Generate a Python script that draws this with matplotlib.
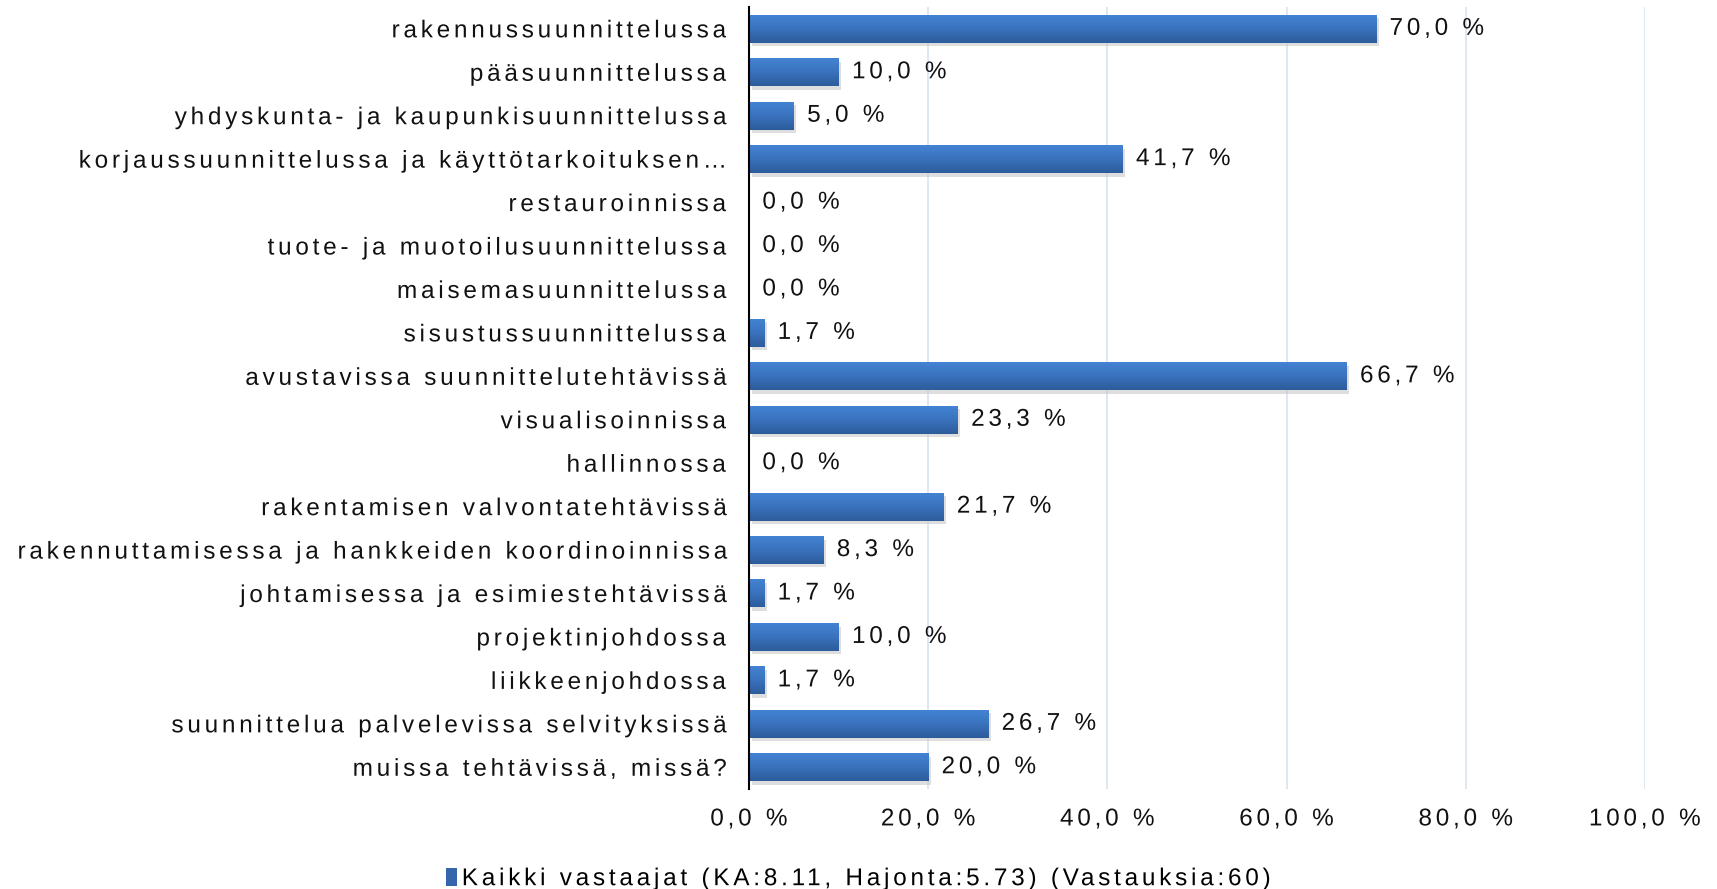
import numpy as np
import matplotlib.pyplot as plt
from matplotlib.colors import LinearSegmentedColormap
from matplotlib.patches import Patch
from matplotlib.patheffects import AbstractPathEffect
from matplotlib.path import Path
from matplotlib.textpath import text_to_path

plt.rcParams['font.family'] = ['Liberation Sans', 'DejaVu Sans']

categories = ['rakennussuunnittelussa', 'pääsuunnittelussa',
              'yhdyskunta- ja kaupunkisuunnittelussa',
              'korjaussuunnittelussa ja käyttötarkoituksen…',
              'restauroinnissa', 'tuote- ja muotoilusuunnittelussa',
              'maisemasuunnittelussa', 'sisustussuunnittelussa',
              'avustavissa suunnittelutehtävissä', 'visualisoinnissa',
              'hallinnossa', 'rakentamisen valvontatehtävissä',
              'rakennuttamisessa ja hankkeiden koordinoinnissa',
              'johtamisessa ja esimiestehtävissä', 'projektinjohdossa',
              'liikkeenjohdossa', 'suunnittelua palvelevissa selvityksissä',
              'muissa tehtävissä, missä?']
values = [70.0, 10.0, 5.0, 41.7, 0.0, 0.0, 0.0, 1.7, 66.7, 23.3, 0.0,
          21.7, 8.3, 1.7, 10.0, 1.7, 26.7, 20.0]
xticks = [0, 20, 40, 60, 80, 100]
legend_label = 'Kaikki vastaajat (KA:8.11, Hajonta:5.73) (Vastauksia:60)'

FS = 17.5
TRACK = 0.155  # extra letter spacing, in em


class Tracking(AbstractPathEffect):
    """Wide letter spacing like the original (text stays real text)."""
    def __init__(self, txt, ha):
        super().__init__()
        font = text_to_path._get_font(txt.get_fontproperties())
        info, _, _ = text_to_path.get_glyphs_with_font(font, txt.get_text())
        self.xpos = np.array([g[1] for g in info])
        self.sp = TRACK * text_to_path.FONT_SCALE
        self.ha = ha

    def draw_path(self, renderer, gc, tpath, affine, rgbFace=None):
        verts = tpath.vertices.copy()
        codes = tpath.codes
        if codes is not None and len(self.xpos):
            starts = np.flatnonzero(codes == Path.MOVETO)
            ends = list(starts[1:]) + [len(verts)]
            for a, b in zip(starts, ends):
                seg = verts[a:b]
                ok = codes[a:b] != Path.CLOSEPOLY
                cx = seg[ok, 0].mean()
                idx = max(np.searchsorted(self.xpos, cx, side='right') - 1, 0)
                verts[a:b, 0] += idx * self.sp
            n = len(self.xpos) - 1
            k = {'left': 0, 'center': -0.5, 'right': -1}[self.ha]
            verts[:, 0] += k * n * self.sp
        renderer.draw_path(gc, Path(verts, codes), affine, rgbFace)


def track(txt, ha):
    txt.set_path_effects([Tracking(txt, ha)])


fig = plt.figure(figsize=(17.17, 8.89), dpi=100)
ax = fig.add_axes([0.4362, 0.1125, 0.5218, 0.8795])

y = np.arange(len(categories))
h = 0.64
grad = LinearSegmentedColormap.from_list('g', ['#4383d3', '#3a72bd', '#2c5c9b'])

# soft shadow
ax.barh(y + 0.08, values, height=h, left=0.3, color='#c4c4c4', alpha=0.55,
        zorder=2, linewidth=0)
bars = ax.barh(y, values, height=h, color='#3a72bd', zorder=3, linewidth=0)
for b in bars:
    x0, y0 = b.get_x(), b.get_y()
    w, hh = b.get_width(), b.get_height()
    if w <= 0:
        continue
    ax.imshow(np.linspace(0, 1, 64).reshape(-1, 1), cmap=grad, aspect='auto',
              extent=[x0, x0 + w, y0 + hh, y0], origin='upper', zorder=3.5)

for yi, v in zip(y, values):
    t = ax.text(v + 1.5, yi, f'{v:.1f} %'.replace('.', ','), va='center',
                ha='left', fontsize=FS, color='#111111', zorder=5)
    track(t, 'left')

ax.set_xlim(0, 100)
ax.set_ylim(len(categories) - 0.5, -0.5)
ax.set_yticks(y)
ylabs = ax.set_yticklabels(categories, fontsize=FS, color='#111111')
ax.set_xticks(xticks)
xlabs = ax.set_xticklabels([f'{t:.1f} %'.replace('.', ',') for t in xticks],
                           fontsize=FS, color='#111111')
for t in ylabs:
    track(t, 'right')
for t in xlabs:
    track(t, 'center')
ax.tick_params(axis='both', length=0)
ax.tick_params(axis='y', pad=17)
ax.tick_params(axis='x', pad=14)
ax.xaxis.grid(True, color='#d9e3ef', linewidth=1.2)
ax.set_axisbelow(True)
for s in ['top', 'right', 'bottom']:
    ax.spines[s].set_visible(False)
ax.spines['left'].set_color('black')
ax.spines['left'].set_linewidth(1.5)
ax.spines['left'].set_zorder(6)

leg = fig.legend(handles=[Patch(facecolor='#3565aa', label=legend_label)],
                 loc='center left', bbox_to_anchor=(446 / 1717, 1 - 879 / 889),
                 frameon=False, fontsize=FS, handlelength=0.45, handleheight=0.75,
                 handletextpad=0.2, borderpad=0, borderaxespad=0)
for t in leg.get_texts():
    track(t, 'left')

fig.savefig('out.png', dpi=100)
